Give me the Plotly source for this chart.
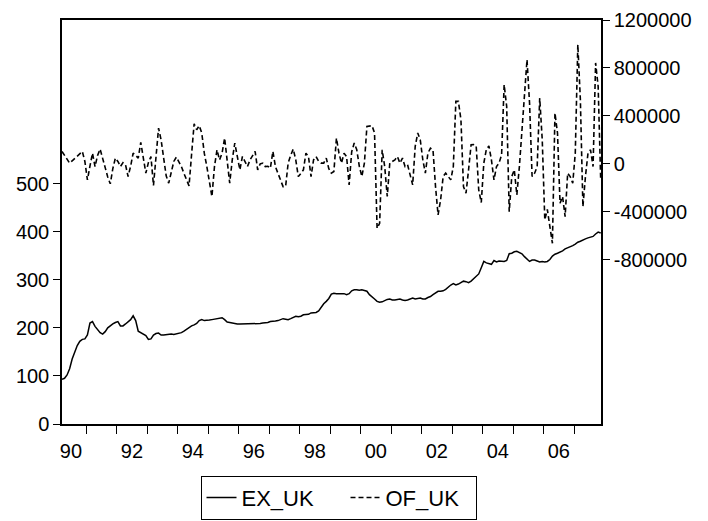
import plotly.graph_objects as go
import pandas as pd

# Monthly observations, 1990M03 .. 2007M11
start_period = "1990-03"

ex_uk = [
    93, 95, 102, 115, 135, 151, 163, 172, 176, 177,
    185, 210, 213, 203, 196, 190, 187, 192, 200, 205,
    208, 211, 213, 204, 204, 208, 213, 217, 225, 215,
    193, 190, 187, 184, 176, 177, 185, 188, 189, 185,
    185, 186, 187, 187, 186, 187, 189, 190, 193, 197,
    201, 204, 206, 209, 215, 217, 215, 215, 216, 217,
    218, 220, 221, 221, 217, 212, 211, 210, 208, 208,
    208, 208, 208, 208, 208, 208, 208, 208, 209, 210,
    210, 211, 213, 213, 214, 215, 217, 219, 218, 217,
    219, 221, 224, 223, 224, 227, 227, 228, 231, 231,
    232, 235, 243, 250, 255, 261, 270, 272, 271, 271,
    272, 271, 269, 271, 277, 279, 279, 278, 279, 278,
    276, 269, 265, 260, 255, 253, 254, 257, 259, 260,
    258, 258, 259, 260, 258, 257, 258, 260, 262, 260,
    261, 262, 260, 260, 263, 265, 269, 273, 276, 276,
    277, 280, 285, 289, 292, 289, 291, 294, 297, 296,
    294, 297, 302, 306, 312, 325, 338, 335, 333, 332,
    340, 337, 339, 338, 338, 340, 354, 355, 358, 359,
    357, 354, 348, 343, 338, 341, 341, 339, 337, 338,
    337, 338, 342, 349, 353, 355, 357, 360, 364, 366,
    368, 371, 374, 378, 380, 383, 385, 387, 389, 390,
    395, 399, 397,
]

# OF_UK in thousands
of_uk_thousands = [
    103, 70, 30, 6, 25, 45, 65, 85, 103, 20,
    -134, -20, 89, -23, 70, 123, 40, -40, -110, -167,
    -40, 48, 20, -23, 10, -8, -106, -20, 89, 70,
    48, 178, 40, -78, 10, 61, -181, 100, 298, 200,
    30, -100, -161, -60, 20, 56, 20, -23, -80, -140,
    -184, 80, 334, 284, 318, 257, 89, -23, -150, -273,
    -23, 117, 33, 89, 215, 33, -161, 33, 173, 61,
    -50, 61, 20, -23, 33, 70, 103, -50, 0, 6,
    -23, -20, -36, 103, -23, -80, -134, -190, -190, 6,
    70, 123, 33, -106, -80, -50, 89, 61, -106, 33,
    61, 20, 6, 6, 48, -40, -78, -64, 215, 89,
    6, 89, 61, -176, 100, 173, 117, -20, -106, 6,
    312, 318, 318, 257, -538, -496, 117, -23, -273, 6,
    20, 33, 61, 6, 48, -23, -8, -106, -176, 145,
    257, 200, 33, -78, 89, 131, 117, -190, -426, -301,
    -106, -78, -110, -134, -23, 521, 521, 368, -190, -245,
    -50, 159, 160, 150, -217, -323, 6, 120, 150, 33,
    -134, -23, 6, 75, 660, 479, -399, -106, -50, -259,
    -23, 284, 563, 869, 507, -106, -78, -23, 549, 200,
    -468, -380, -524, -663, 424, 257, -329, -273, -441, -78,
    -106, -161, 89, 995, 535, -357, -106, 89, 117, -23,
    842, 646, -134,
]
of_uk = [v * 1000 for v in of_uk_thousands]

left_tickvals = [0, 100, 200, 300, 400, 500]
right_tickvals = [-800000, -400000, 0, 400000, 800000, 1200000]
right_ticktext = ["-800000", "-400000", "0", "400000", "800000", "1200000"]
label_years = [1990, 1992, 1994, 1996, 1998, 2000, 2002, 2004, 2006]
label_text = ["90", "92", "94", "96", "98", "00", "02", "04", "06"]
year_ticks = list(range(1991, 2008))

periods = pd.period_range(start_period, periods=len(ex_uk), freq="M")
x = [p.year + (p.month - 0.5) / 12 for p in periods]

FONT = "Liberation Sans, Arial, sans-serif"
fs = 20
lfs = 22

fig = go.Figure()
fig.add_trace(go.Scatter(x=x, y=ex_uk, mode="lines", name="EX_UK",
                         line=dict(color="black", width=1.5), yaxis="y",
                         legendwidth=99))
fig.add_trace(go.Scatter(x=x, y=of_uk, mode="lines", name="OF_UK",
                         line=dict(color="black", width=1.6, dash="5px,3px"),
                         yaxis="y2", legendwidth=85))

# page body adds an 8px offset, so the figure is 700x513 with margins shifted
fig.update_layout(
    width=700, height=513,
    margin=dict(l=54, r=107, t=12, b=97, autoexpand=False),
    paper_bgcolor="white", plot_bgcolor="white",
    font=dict(family=FONT, size=fs, color="black"),
    showlegend=True,
    legend=dict(orientation="h", x=0.513, xanchor="center", y=-0.128, yanchor="top",
                bordercolor="black", borderwidth=1, font=dict(size=lfs),
                tracegroupgap=0),
    xaxis=dict(
        range=[x[0], x[-1] + 0.01],
        tickmode="array",
        tickvals=[yv + 0.5 for yv in label_years],
        ticktext=label_text,
        ticks="outside", ticklen=8, tickcolor="rgba(0,0,0,0)",
        minor=dict(tickmode="array", tickvals=year_ticks, ticks="outside",
                   ticklen=8, tickwidth=1, tickcolor="black", showgrid=False),
        showline=True, linecolor="black", linewidth=1.5, mirror=True,
        showgrid=False, zeroline=False, automargin=False,
        tickfont=dict(size=fs),
    ),
    yaxis=dict(
        range=[0, 840],
        tickmode="array", tickvals=left_tickvals,
        ticks="outside", ticklen=7, tickcolor="black",
        showline=True, linecolor="black", linewidth=1.5,
        showgrid=False, zeroline=False, automargin=False,
        tickfont=dict(size=fs),
    ),
    yaxis2=dict(
        range=[-2170700, 1200000],
        overlaying="y", side="right",
        tickmode="array", tickvals=right_tickvals, ticktext=right_ticktext,
        ticks="outside", ticklen=7, tickcolor="black",
        showline=True, linecolor="black", linewidth=1.5,
        showgrid=False, zeroline=False, automargin=False,
        tickfont=dict(size=fs),
    ),
)

fig.write_html("out.html")
